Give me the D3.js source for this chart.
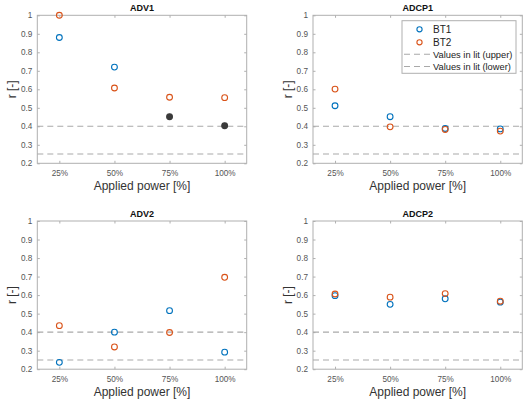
<!DOCTYPE html>
<html>
<head>
<meta charset="utf-8">
<script src="https://cdn.jsdelivr.net/npm/d3@7"></script>
<style>
  html, body { margin: 0; padding: 0; background: #fff; }
  svg { display: block; font-family: "Liberation Sans", Arial, Helvetica, sans-serif; }
</style>
</head>
<body>
<svg id="chart" width="526" height="404"></svg>
<script>
// Categories and tick values
const categories = ["25%", "50%", "75%", "100%"];
const yTicks = [0.2, 0.3, 0.4, 0.5, 0.6, 0.7, 0.8, 0.9, 1];

// Literature reference values
const litUpper = 0.4;
const litLower = 0.25;

// Correlation values per sensor (null = not shown)
const adv1BT1 = [0.88, 0.72, null, null];
const adv1BT2 = [1.0, 0.607, 0.557, 0.555];
const adv1Shared = [null, null, 0.452, 0.403];

const adcp1BT1 = [0.511, 0.452, 0.388, 0.386];
const adcp1BT2 = [0.601, 0.397, 0.383, 0.374];

const adv2BT1 = [0.237, 0.400, 0.516, 0.292];
const adv2BT2 = [0.435, 0.320, 0.398, 0.696];

const adcp2BT1 = [0.597, 0.550, 0.580, 0.562];
const adcp2BT2 = [0.606, 0.589, 0.608, 0.567];

const panels = [
  { title: "ADV1", bt1: adv1BT1, bt2: adv1BT2, shared: adv1Shared, x0: 37.3, x1: 246.7, y0: 15.3, y1: 163.3, legend: false },
  { title: "ADCP1", bt1: adcp1BT1, bt2: adcp1BT2, shared: null, x0: 313, x1: 522.3, y0: 15.3, y1: 163.3, legend: true },
  { title: "ADV2", bt1: adv2BT1, bt2: adv2BT2, shared: null, x0: 37.3, x1: 246.7, y0: 221, y1: 369.2, legend: false },
  { title: "ADCP2", bt1: adcp2BT1, bt2: adcp2BT2, shared: null, x0: 313, x1: 522.3, y0: 221, y1: 369.2, legend: false }
];

const colBT1 = "#0072BD";
const colBT2 = "#D95319";
const colShared = "#3a3a3a";
const colLit = "#a9a9a9";
const colAxis = "#b0b0b0";
const colTickText = "#555";
const colLabel = "#333";

const svg = d3.select("#chart");

panels.forEach(p => {
  const x = d3.scaleLinear().domain([0.6, 4.4]).range([p.x0, p.x1]);
  const y = d3.scaleLinear().domain([0.2, 1]).range([p.y1, p.y0]);
  const g = svg.append("g");
  const tickLen = 2.5;

  // Box
  g.append("rect")
    .attr("x", p.x0).attr("y", p.y0)
    .attr("width", p.x1 - p.x0).attr("height", p.y1 - p.y0)
    .attr("fill", "none").attr("stroke", colAxis).attr("stroke-width", 1);

  // Y axis (left) with labels, inward ticks
  const yAxis = d3.axisLeft(y).tickValues(yTicks).tickSize(-tickLen).tickPadding(5)
    .tickFormat(d => d3.format("")(+d.toFixed(1)));
  const ya = g.append("g").attr("transform", `translate(${p.x0},0)`).call(yAxis);
  ya.select(".domain").remove();
  ya.selectAll(".tick line").attr("stroke", colAxis);
  ya.selectAll(".tick text").attr("fill", colTickText).attr("font-size", 8.2);

  // Right side ticks
  const yr = g.append("g").attr("transform", `translate(${p.x1},0)`)
    .call(d3.axisRight(y).tickValues(yTicks).tickSize(-tickLen).tickFormat(""));
  yr.select(".domain").remove();
  yr.selectAll(".tick line").attr("stroke", colAxis);

  // X axis (bottom) with category labels
  const xAxis = d3.axisBottom(x).tickValues([1, 2, 3, 4]).tickSize(-tickLen).tickPadding(7)
    .tickFormat((d, i) => categories[i]);
  const xa = g.append("g").attr("transform", `translate(0,${p.y1})`).call(xAxis);
  xa.select(".domain").remove();
  xa.selectAll(".tick line").attr("stroke", colAxis);
  xa.selectAll(".tick text").attr("fill", colTickText).attr("font-size", 8.2);

  const xt = g.append("g").attr("transform", `translate(0,${p.y0})`)
    .call(d3.axisTop(x).tickValues([1, 2, 3, 4]).tickSize(-tickLen).tickFormat(""));
  xt.select(".domain").remove();
  xt.selectAll(".tick line").attr("stroke", colAxis);

  // Literature reference lines
  [litUpper, litLower].forEach(v => {
    g.append("line")
      .attr("x1", p.x0).attr("x2", p.x1)
      .attr("y1", y(v)).attr("y2", y(v))
      .attr("stroke", colLit).attr("stroke-width", 1.1)
      .attr("stroke-dasharray", "6,4");
  });

  // Markers
  const drawSeries = (vals, color, filled) => {
    g.append("g").selectAll("circle")
      .data(vals.map((v, i) => ({ v, i })).filter(d => d.v !== null))
      .join("circle")
      .attr("cx", d => x(d.i + 1))
      .attr("cy", d => y(d.v))
      .attr("r", 2.9)
      .attr("fill", filled ? color : "none")
      .attr("stroke", color)
      .attr("stroke-width", 1.1);
  };
  drawSeries(p.bt1, colBT1, false);
  drawSeries(p.bt2, colBT2, false);
  if (p.shared) drawSeries(p.shared, colShared, true);

  // Title
  g.append("text")
    .attr("x", (p.x0 + p.x1) / 2).attr("y", p.y0 - 4.5)
    .attr("text-anchor", "middle").attr("font-size", 9).attr("font-weight", "bold")
    .attr("fill", "#111").text(p.title);

  // Axis labels
  g.append("text")
    .attr("x", (p.x0 + p.x1) / 2).attr("y", p.y1 + 27)
    .attr("text-anchor", "middle").attr("font-size", 12)
    .attr("fill", colLabel).text("Applied power [%]");
  g.append("text")
    .attr("transform", `translate(${p.x0 - 21},${(p.y0 + p.y1) / 2}) rotate(-90)`)
    .attr("text-anchor", "middle").attr("font-size", 12)
    .attr("fill", colLabel).text("r [-]");

  // Legend
  if (p.legend) {
    const lx0 = 402, ly0 = 20.7, lw = 114, lh = 52.6;
    const lg = g.append("g");
    lg.append("rect").attr("x", lx0).attr("y", ly0).attr("width", lw).attr("height", lh)
      .attr("fill", "#fff").attr("stroke", colAxis).attr("stroke-width", 1);
    const items = [
      { label: "BT1", type: "marker", color: colBT1 },
      { label: "BT2", type: "marker", color: colBT2 },
      { label: "Values in lit (upper)", type: "line", color: colLit },
      { label: "Values in lit (lower)", type: "line", color: colLit }
    ];
    const rowY = [29.3, 42.3, 54.3, 66.5];
    items.forEach((it, i) => {
      const cy = rowY[i];
      if (it.type === "marker") {
        lg.append("circle").attr("cx", 419.5).attr("cy", cy).attr("r", 2.6)
          .attr("fill", "none").attr("stroke", it.color).attr("stroke-width", 1.1);
      } else {
        lg.append("line").attr("x1", 404).attr("x2", 432).attr("y1", cy).attr("y2", cy)
          .attr("stroke", it.color).attr("stroke-width", 1.1).attr("stroke-dasharray", "6,4");
      }
      lg.append("text").attr("x", 433).attr("y", cy + 3.3)
        .attr("font-size", it.type === "marker" ? 10 : 9.3)
        .attr("fill", "#222").text(it.label);
    });
  }
});
</script>
</body>
</html>
